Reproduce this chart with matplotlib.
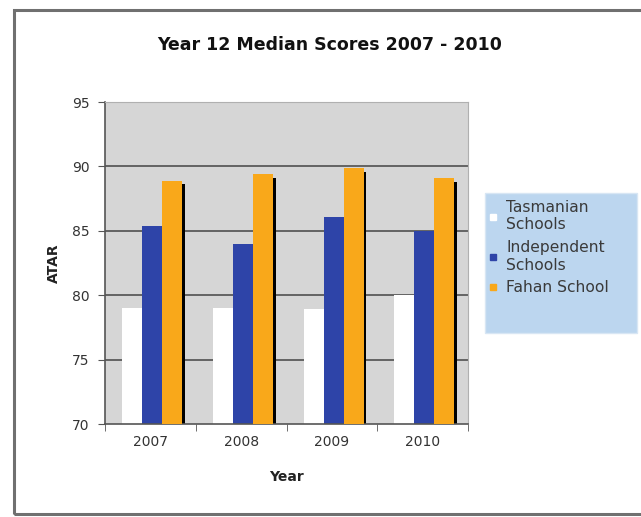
import numpy as np
import matplotlib.pyplot as plt
from matplotlib.patches import Rectangle
from matplotlib.lines import Line2D

years = ['2007', '2008', '2009', '2010']
tasmanian = [79.0, 79.0, 78.9, 80.0]
independent = [85.4, 84.0, 86.1, 85.0]
fahan = [88.9, 89.4, 89.9, 89.1]

W, H = 641, 517
fig = plt.figure(figsize=(W / 100, H / 100), dpi=100)
fig.patch.set_facecolor('white')

# chart area border
fig.patches.append(Rectangle((14 / W, 3 / H), 640 / W, 504 / H, transform=fig.transFigure,
                             fill=False, edgecolor='#707070', linewidth=2.2))

ax = fig.add_axes([105 / W, 93 / H, 363 / W, 322 / H])
ax.set_facecolor('#d6d6d6')

x = np.arange(len(years))
w = 0.22
base = 70
ax.bar(x - 0.20, np.array(tasmanian) - base, w, bottom=base, color='white', zorder=2)
ax.bar(x + 0.02, np.array(independent) - base, w, bottom=base, color='#2e44a8', zorder=2)
ax.bar(x + 0.27, np.array(fahan) - base - 0.3, w, bottom=base, color='black', zorder=2)
ax.bar(x + 0.24, np.array(fahan) - base, w, bottom=base, color='#f9a81a', zorder=3)

ax.set_xlim(-0.5, 3.5)
ax.set_ylim(70, 95)
ax.set_yticks([70, 75, 80, 85, 90, 95])
ax.set_xticks(x)
ax.set_xticklabels(years)
ax.set_xticks(np.arange(-0.5, 4, 1), minor=True)
ax.tick_params(axis='x', which='major', length=0, pad=8, labelsize=10, labelcolor='#333333')
ax.tick_params(axis='x', which='minor', length=5, color='#555555')
ax.tick_params(axis='y', length=5, color='#555555', labelsize=10, labelcolor='#333333', pad=6)

for v in [75, 80, 85, 90]:
    ax.axhline(v, color='#505050', linewidth=1.2, zorder=1)
ax.axhline(95, color='#9a9a9a', linewidth=1.2, zorder=1)

for s in ['top', 'right']:
    ax.spines[s].set_color('#b0b0b0')
for s in ['left', 'bottom']:
    ax.spines[s].set_color('#555555')
    ax.spines[s].set_linewidth(1.2)

ax.set_ylabel('ATAR', fontsize=10, fontweight='bold', color='#222222', labelpad=8)
ax.set_xlabel('Year', fontsize=10, fontweight='bold', color='#222222', labelpad=15)

fig.text(330 / W, 1 - 45 / H, 'Year 12 Median Scores 2007 - 2010', ha='center', va='center',
         fontsize=12.5, fontweight='bold', color='#111111')

# legend box
fig.patches.append(Rectangle((485 / W, 1 - 333 / H), 152 / W, 140 / H, transform=fig.transFigure,
                             facecolor='#bcd6ef', edgecolor='#d8e6f4', linewidth=1))

handles = [
    Line2D([], [], marker='s', linestyle='none', markersize=5, markerfacecolor='white', markeredgecolor='white'),
    Line2D([], [], marker='s', linestyle='none', markersize=5, markerfacecolor='#2e44a8', markeredgecolor='#2e44a8'),
    Line2D([], [], marker='s', linestyle='none', markersize=5, markerfacecolor='#f9a81a', markeredgecolor='#f9a81a'),
]
labels = ['Tasmanian\nSchools', 'Independent\nSchools', 'Fahan School']
leg = fig.legend(handles, labels, loc='upper left', bbox_to_anchor=(489 / W, 1 - 200 / H),
                 frameon=False, fontsize=11.2, labelcolor='#3a3a3a',
                 handlelength=0.5, handletextpad=0.6, borderpad=0, labelspacing=0.5,
                 borderaxespad=0)

fig.savefig('out.png', dpi=100)
